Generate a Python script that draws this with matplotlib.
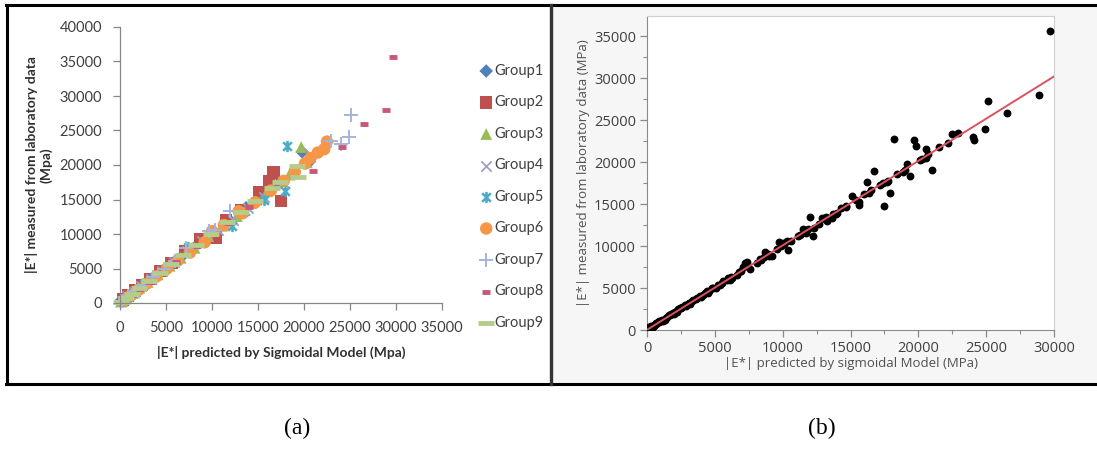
import numpy as np
import matplotlib
matplotlib.use('Agg')
import matplotlib.pyplot as plt
from matplotlib.path import Path
from matplotlib.lines import Line2D
from matplotlib.patches import Rectangle

# ------------------------ data (MPa): predicted x, measured y
GROUP_NAMES = ['Group1', 'Group2', 'Group3', 'Group4', 'Group5',
               'Group6', 'Group7', 'Group8', 'Group9']

g1_x = [150, 600, 1100, 1900, 2800, 3900, 5200, 6900, 8600, 10100, 11900, 13700, 15400, 17200, 19800, 20600]
g1_y = [400, 750, 1200, 2000, 2950, 4000, 5350, 7000, 8700, 10300, 12000, 13800, 15500, 17300, 21900, 20500]

g2_x = [300, 900, 1600, 2400, 3300, 4400, 5600, 7100, 8700, 10400, 11500, 13200, 15100, 16200, 16700, 17500]
g2_y = [500, 1100, 1800, 2600, 3500, 4600, 5800, 7500, 9300, 9500, 12000, 13400, 16000, 17600, 18900, 14800]

g3_x = [100, 700, 1400, 2100, 3000, 4100, 5400, 6600, 8100, 9600, 11100, 12700, 14300, 16000, 18400, 19700, 20300]
g3_y = [200, 800, 1450, 2200, 3050, 4150, 5400, 6550, 8000, 9700, 11200, 12600, 14500, 16200, 18600, 22600, 20400]

g4_x = [250, 800, 1500, 2300, 3400, 4600, 5900, 7300, 8900, 10600, 12300, 13900, 15600, 17700, 18900, 20600]
g4_y = [350, 950, 1600, 2450, 3550, 4700, 6000, 7600, 9000, 10600, 12100, 13800, 15300, 17600, 18800, 21600]

g5_x = [400, 1000, 1800, 2600, 3700, 4900, 6200, 7400, 9000, 12200, 13600, 15600, 17900, 18200]
g5_y = [450, 1050, 1900, 2750, 3800, 5000, 6300, 8100, 8800, 11200, 13300, 14900, 16300, 22800]

g6_x = [500, 1200, 2000, 2900, 4000, 5100, 6300, 7600, 9200, 10000, 11300, 12900, 13300, 14700, 16400,
        17800, 19000, 20100, 20700, 21500, 22200, 22500]
g6_y = [450, 1100, 1900, 2800, 3900, 5000, 6200, 7300, 8800, 10400, 11300, 13300, 13000, 14600, 16300,
        17700, 19000, 20200, 21000, 21800, 22300, 23400]

g7_x = [200, 850, 1700, 2500, 3600, 4800, 6000, 7200, 9700, 10300, 12000, 22900, 24000, 24900, 25100]
g7_y = [350, 950, 1800, 2650, 3750, 4950, 6150, 8000, 10500, 10600, 13400, 23500, 23000, 24000, 27300]

g8_x = [350, 1300, 2200, 3200, 4500, 6100, 8400, 11700, 14000, 21000, 24100, 26500, 28900, 29700]
g8_y = [250, 1200, 2100, 3050, 4350, 5950, 8300, 11600, 13900, 19100, 22600, 25900, 28000, 35600]

g9_x = [100, 650, 1300, 2100, 3100, 4300, 5500, 6800, 8300, 9900, 11600, 13100, 14700, 16500, 17400, 19200, 19400]
g9_y = [150, 700, 1350, 2150, 3200, 4400, 5600, 6900, 8400, 10000, 11700, 13200, 14800, 16700, 17500, 19800, 18300]

TICKS_A_X = [0, 5000, 10000, 15000, 20000, 25000, 30000, 35000]
TICKS_A_Y = [0, 5000, 10000, 15000, 20000, 25000, 30000, 35000, 40000]
TICKS_B_X = [0, 5000, 10000, 15000, 20000, 25000, 30000]
TICKS_B_Y = [0, 5000, 10000, 15000, 20000, 25000, 30000, 35000]

FIT_SLOPE = 1.006
FIT_INTERCEPT = 20
# ------------------------

W, H = 1097, 453


def fx(px):
    return px / W


def fy(py):
    return 1 - py / H


groups_x = [g1_x, g2_x, g3_x, g4_x, g5_x, g6_x, g7_x, g8_x, g9_x]
groups_y = [g1_y, g2_y, g3_y, g4_y, g5_y, g6_y, g7_y, g8_y, g9_y]

# excel "star" marker: an X with a vertical stroke
star = Path([(-1, -1), (1, 1), (-1, 1), (1, -1), (0, -1.3), (0, 1.3)],
            [Path.MOVETO, Path.LINETO] * 3)

styles = [
    dict(marker='D', color='#4F81BD', s=48, lw=0),
    dict(marker='s', color='#C0504D', s=80, lw=0),
    dict(marker='^', color='#9BBB59', s=72, lw=0),
    dict(marker='x', color='#A29DC2', s=55, lw=1.3),
    dict(marker=star, color='#4BACC6', s=65, lw=1.8),
    dict(marker='o', color='#F79646', s=80, lw=0),
    dict(marker='+', color='#A6B4DC', s=95, lw=1.4),
    dict(marker='_', color='#C8587A', s=40, lw=3.5),
    dict(marker='_', color='#B5CD8A', s=130, lw=3.5),
]

fig = plt.figure(figsize=(W / 100, H / 100), dpi=100)
fig.patch.set_facecolor('white')

# panel (b) grey background
fig.add_artist(Rectangle((fx(552), fy(384)), fx(W - 552), fy(6) - fy(384),
                         transform=fig.transFigure, facecolor='#f6f6f6',
                         edgecolor='none', zorder=0))

# ---------------- panel (a)
ax_a = fig.add_axes([fx(120), fy(303), fx(442 - 120), fy(27) - fy(303)])
handles = []
for gx, gy, name, st in zip(groups_x, groups_y, GROUP_NAMES, styles):
    sc = ax_a.scatter(gx, gy, marker=st['marker'], s=st['s'], c=st['color'],
                      linewidths=st['lw'], edgecolors=st['color'] if st['lw'] else 'none',
                      label=name, clip_on=False)
    handles.append(sc)

ax_a.set_xlim(0, 35000)
ax_a.set_ylim(0, 40000)
ax_a.set_xticks(TICKS_A_X)
ax_a.set_yticks(TICKS_A_Y)
for side in ['top', 'right']:
    ax_a.spines[side].set_visible(False)
for side in ['left', 'bottom']:
    ax_a.spines[side].set_color('#868686')
    ax_a.spines[side].set_linewidth(0.9)
ax_a.tick_params(direction='out', length=5, width=0.9, color='#868686',
                 labelcolor='#404040', labelsize=10.5)
ax_a.tick_params(axis='x', pad=8)
ax_a.tick_params(axis='y', pad=8)
for lab in ax_a.get_xticklabels() + ax_a.get_yticklabels():
    lab.set_family('Lato')
ax_a.set_xlabel('|E*| predicted by Sigmoidal Model (Mpa)', family='Lato',
                fontweight='bold', fontsize=10, color='#303030', labelpad=8)
ax_a.set_ylabel('|E*| measured from laboratory data\n(Mpa)', family='Lato',
                fontweight='bold', fontsize=10, color='#303030', labelpad=5,
                linespacing=1.2)

leg = ax_a.legend(handles=handles, loc='upper left', frameon=False,
                  bbox_to_anchor=(fx(476), fy(58)), bbox_transform=fig.transFigure,
                  prop={'family': 'Lato', 'size': 10.5}, labelspacing=1.2,
                  handlelength=0.6, handletextpad=0.25, scatterpoints=1,
                  borderaxespad=0)
for t in leg.get_texts():
    t.set_color('#404040')

# ---------------- panel (b)
ax_b = fig.add_axes([fx(647), fy(330), fx(1054 - 647), fy(16) - fy(330)])
all_x = np.concatenate([np.array(g) for g in groups_x])
all_y = np.concatenate([np.array(g) for g in groups_y])
ax_b.scatter(all_x, all_y, s=32, c='black', linewidths=0, zorder=3)
line_x = np.array([0, 30000])
ax_b.plot(line_x, FIT_SLOPE * line_x + FIT_INTERCEPT, color='#D9535F', lw=1.4, zorder=4)

ax_b.set_xlim(0, 30000)
ax_b.set_ylim(0, 37400)
ax_b.set_xticks(TICKS_B_X)
ax_b.set_yticks(TICKS_B_Y)
ax_b.set_xticks(np.arange(2500, 30000, 5000), minor=True)
ax_b.set_yticks(np.arange(2500, 37400, 5000), minor=True)
ax_b.set_facecolor('white')
for side in ['left', 'bottom']:
    ax_b.spines[side].set_color('#8a8a8a')
for side in ['top', 'right']:
    ax_b.spines[side].set_color('#d0d0d0')
ax_b.tick_params(which='major', direction='out', length=5, width=0.9, color='#8a8a8a',
                 labelcolor='#404040', labelsize=10.5, pad=3)
ax_b.tick_params(which='minor', direction='out', length=3, width=0.8, color='#8a8a8a')
for lab in ax_b.get_xticklabels() + ax_b.get_yticklabels():
    lab.set_family('Open Sans')
ax_b.set_xlabel('|E*| predicted by sigmoidal Model (MPa)', family='Open Sans',
                fontsize=9.5, color='#505050', labelpad=1)
ax_b.set_ylabel('|E*| measured from laboratory data (MPa)', family='Open Sans',
                fontsize=9.5, color='#505050', labelpad=3)

# ---------------- frames
frame_kw = dict(transform=fig.transFigure, color='black', lw=2.2, zorder=10)
fig.add_artist(Line2D([fx(6), fx(W)], [fy(5), fy(5)], **frame_kw))
fig.add_artist(Line2D([fx(6), fx(W)], [fy(384), fy(384)], **frame_kw))
fig.add_artist(Line2D([fx(7), fx(7)], [fy(5), fy(384)], **frame_kw))
fig.add_artist(Line2D([fx(551), fx(551)], [fy(5), fy(384)], transform=fig.transFigure,
                      color='#333333', lw=2.4, zorder=10))

# ---------------- captions
fig.text(fx(297), fy(428), '(a)', family='Liberation Serif', fontsize=17,
         ha='center', va='center')
fig.text(fx(822), fy(428), '(b)', family='Liberation Serif', fontsize=17,
         ha='center', va='center')

fig.savefig('out.png', dpi=100)
